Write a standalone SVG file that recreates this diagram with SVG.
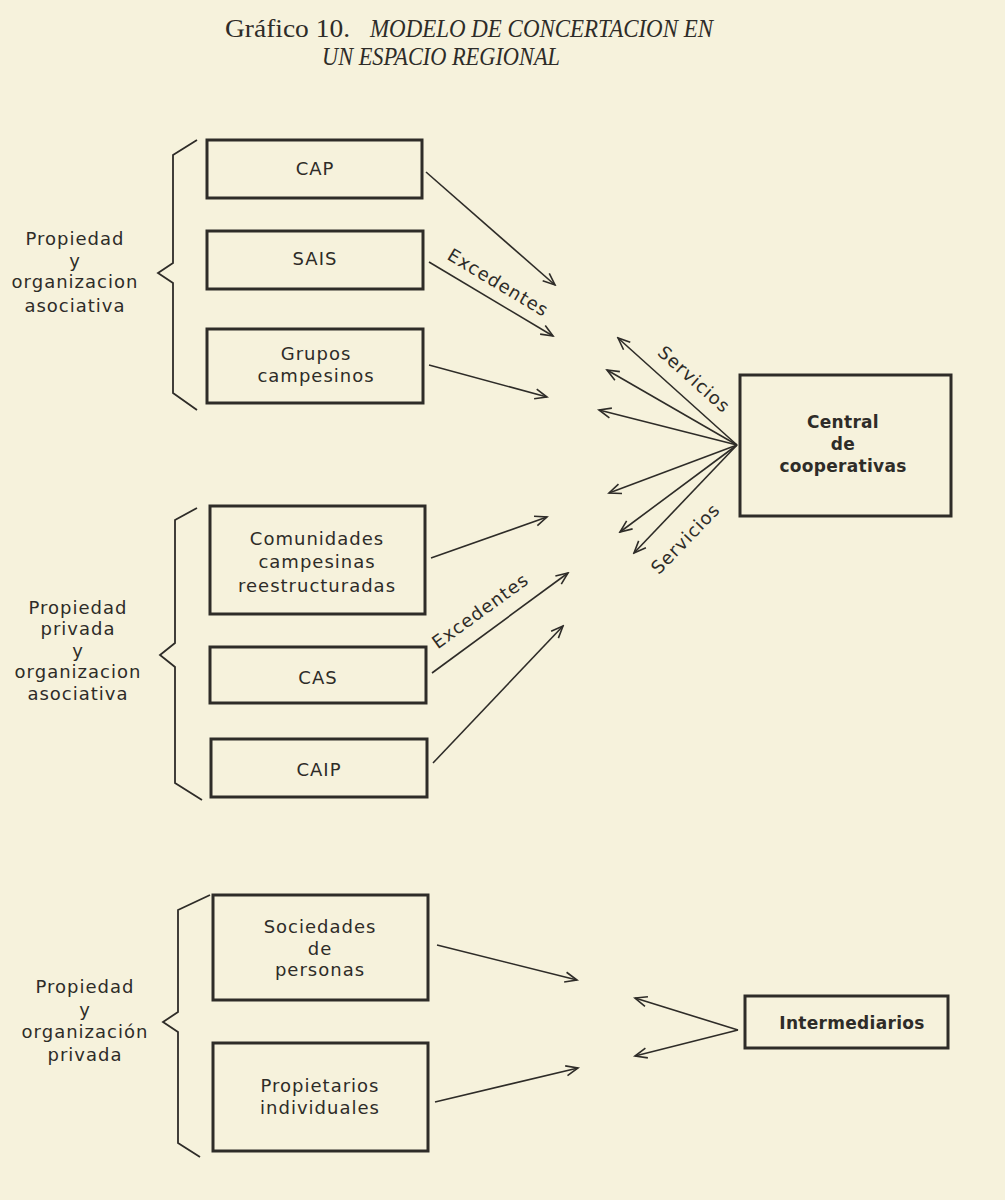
<svg xmlns="http://www.w3.org/2000/svg" width="1005" height="1200" viewBox="0 0 1005 1200">
<style>
.bg{fill:#f6f2dc}
.box{fill:none;stroke:#2e2c28;stroke-width:3}
.lbl{font-family:"DejaVu Sans","Liberation Sans",sans-serif;font-size:18px;letter-spacing:1px;fill:#2e2c28;text-anchor:middle}
.bold{font-weight:bold;font-size:17px;letter-spacing:0.3px}
.con{fill:none;stroke:#2e2c28;stroke-width:1.6}
.brace{fill:none;stroke:#2e2c28;stroke-width:1.8;stroke-linejoin:miter}
.title{font-family:"Liberation Serif","Times New Roman",serif;font-size:25px;fill:#2e2c28}
.it{font-style:italic}
</style>
<defs>
<marker id="ah" markerUnits="userSpaceOnUse" markerWidth="16" markerHeight="14" viewBox="-14 -7 16 14" refX="0" refY="0" orient="auto">
<path d="M-12,-5 L0,0 L-12,5" fill="none" stroke="#2e2c28" stroke-width="1.6"/>
</marker>
</defs>
<rect class="bg" x="0" y="0" width="1005" height="1200"/>

<g id="title">
<text class="title" x="225" y="37" textLength="125" lengthAdjust="spacingAndGlyphs">Gráfico 10.</text>
<text class="title it" x="370" y="37" textLength="343" lengthAdjust="spacingAndGlyphs">MODELO DE CONCERTACION EN</text>
<text class="title it" x="322" y="65" textLength="238" lengthAdjust="spacingAndGlyphs">UN ESPACIO REGIONAL</text>
</g>

<g id="braces">
<path class="brace" d="M197,140 L173,155 L173,263 L158,273 L173,283 L173,393 L197,410"/>
<path class="brace" d="M197,508 L175,520 L175,643 L160,655 L175,667 L175,783 L202,800"/>
<path class="brace" d="M210,895 L178,910 L178,1012 L163,1022 L178,1032 L178,1143 L200,1157"/>
</g>

<g id="group-asociativa">
<text class="lbl" x="75" y="245">Propiedad</text>
<text class="lbl" x="75" y="267">y</text>
<text class="lbl" x="75" y="288">organizacion</text>
<text class="lbl" x="75" y="312">asociativa</text>
</g>
<g id="group-privada-asociativa">
<text class="lbl" x="78" y="614">Propiedad</text>
<text class="lbl" x="78" y="635">privada</text>
<text class="lbl" x="78" y="657">y</text>
<text class="lbl" x="78" y="678">organizacion</text>
<text class="lbl" x="78" y="700">asociativa</text>
</g>
<g id="group-privada">
<text class="lbl" x="85" y="993">Propiedad</text>
<text class="lbl" x="85" y="1016">y</text>
<text class="lbl" x="85" y="1038">organización</text>
<text class="lbl" x="85" y="1061">privada</text>
</g>

<g id="node-cap">
<rect class="box" x="207" y="140" width="215" height="58"/>
<text class="lbl" x="315" y="175">CAP</text>
</g>
<g id="node-sais">
<rect class="box" x="207" y="231" width="216" height="58"/>
<text class="lbl" x="315" y="265">SAIS</text>
</g>
<g id="node-grupos">
<rect class="box" x="207" y="329" width="216" height="74"/>
<text class="lbl" x="316" y="360">Grupos</text>
<text class="lbl" x="316" y="382">campesinos</text>
</g>
<g id="node-comunidades">
<rect class="box" x="210" y="506" width="215" height="108"/>
<text class="lbl" x="317" y="545">Comunidades</text>
<text class="lbl" x="317" y="568">campesinas</text>
<text class="lbl" x="317" y="592">reestructuradas</text>
</g>
<g id="node-cas">
<rect class="box" x="210" y="647" width="216" height="56"/>
<text class="lbl" x="318" y="684">CAS</text>
</g>
<g id="node-caip">
<rect class="box" x="211" y="739" width="216" height="58"/>
<text class="lbl" x="319" y="776">CAIP</text>
</g>
<g id="node-sociedades">
<rect class="box" x="213" y="895" width="215" height="105"/>
<text class="lbl" x="320" y="933">Sociedades</text>
<text class="lbl" x="320" y="955">de</text>
<text class="lbl" x="320" y="976">personas</text>
</g>
<g id="node-propietarios">
<rect class="box" x="213" y="1043" width="215" height="108"/>
<text class="lbl" x="320" y="1092">Propietarios</text>
<text class="lbl" x="320" y="1114">individuales</text>
</g>
<g id="node-central">
<rect class="box" x="740" y="375" width="211" height="141"/>
<text class="lbl bold" x="843" y="428">Central</text>
<text class="lbl bold" x="843" y="450">de</text>
<text class="lbl bold" x="843" y="472">cooperativas</text>
</g>
<g id="node-intermediarios">
<rect class="box" x="745" y="996" width="203" height="52"/>
<text class="lbl bold" x="852" y="1029">Intermediarios</text>
</g>

<g id="connectors">
<line class="con" x1="426" y1="172" x2="555" y2="285" marker-end="url(#ah)"/>
<line class="con" x1="429" y1="262" x2="553" y2="336" marker-end="url(#ah)"/>
<line class="con" x1="429" y1="365" x2="547" y2="397" marker-end="url(#ah)"/>
<line class="con" x1="737" y1="445" x2="618" y2="338" marker-end="url(#ah)"/>
<line class="con" x1="737" y1="445" x2="607" y2="370" marker-end="url(#ah)"/>
<line class="con" x1="737" y1="445" x2="599" y2="410" marker-end="url(#ah)"/>
<line class="con" x1="737" y1="445" x2="609" y2="493" marker-end="url(#ah)"/>
<line class="con" x1="737" y1="445" x2="620" y2="532" marker-end="url(#ah)"/>
<line class="con" x1="737" y1="445" x2="634" y2="553" marker-end="url(#ah)"/>
<line class="con" x1="431" y1="558" x2="547" y2="517" marker-end="url(#ah)"/>
<line class="con" x1="432" y1="673" x2="568" y2="573" marker-end="url(#ah)"/>
<line class="con" x1="433" y1="763" x2="563" y2="626" marker-end="url(#ah)"/>
<line class="con" x1="437" y1="945" x2="577" y2="980" marker-end="url(#ah)"/>
<line class="con" x1="435" y1="1102" x2="578" y2="1068" marker-end="url(#ah)"/>
<line class="con" x1="738" y1="1030" x2="635" y2="998" marker-end="url(#ah)"/>
<line class="con" x1="738" y1="1030" x2="635" y2="1056" marker-end="url(#ah)"/>
<text class="lbl" transform="translate(495,288) rotate(31)">Excedentes</text>
<text class="lbl" transform="translate(484,616) rotate(-36)">Excedentes</text>
<text class="lbl" transform="translate(690,384) rotate(42)">Servicios</text>
<text class="lbl" transform="translate(690,543) rotate(-46)">Servicios</text>
</g>
</svg>
